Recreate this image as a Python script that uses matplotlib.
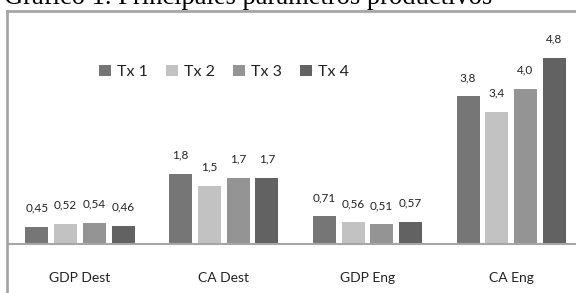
import numpy as np
import matplotlib
matplotlib.use("Agg")
import matplotlib.pyplot as plt
from matplotlib.lines import Line2D

# data
categories = ["GDP Dest", "CA Dest", "GDP Eng", "CA Eng"]
series_names = ["Tx 1", "Tx 2", "Tx 3", "Tx 4"]
tx1 = [0.45, 1.8, 0.71, 3.8]
tx2 = [0.52, 1.5, 0.56, 3.4]
tx3 = [0.54, 1.7, 0.51, 4.0]
tx4 = [0.46, 1.7, 0.57, 4.8]
value_labels = [
    ["0,45", "1,8", "0,71", "3,8"],
    ["0,52", "1,5", "0,56", "3,4"],
    ["0,54", "1,7", "0,51", "4,0"],
    ["0,46", "1,7", "0,57", "4,8"],
]
colors = ["#767676", "#c2c2c2", "#949494", "#626262"]
title = "Gráfico 1. Principales parámetros productivos"

W, H = 576, 293
font = "Lato"

fig = plt.figure(figsize=(W / 100, H / 100), dpi=100)
ax = fig.add_axes([8 / W, 49 / H, (583 - 8) / W, 233 / H])

x = np.arange(len(categories))
step = 0.2
width = 0.16
for i, (vals, name) in enumerate(zip([tx1, tx2, tx3, tx4], series_names)):
    pos = x + (i - 1.5) * step
    ax.bar(pos, vals, width, color=colors[i], label=name, zorder=2)
    for px, v, lab in zip(pos, vals, value_labels[i]):
        ax.annotate(lab, (px, v), xytext=(0, 13.5), textcoords="offset points",
                    ha="center", va="center", fontsize=8.5, family=font,
                    color="#222222")

ax.set_xlim(-0.5, 3.5)
ax.set_ylim(0, 6)
ax.set_yticks([])
ax.set_xticks(x)
ax.set_xticklabels(categories, family=font, fontsize=10, color="#222222")
ax.tick_params(axis="x", length=0, pad=20)
for side in ["top", "left", "right"]:
    ax.spines[side].set_visible(False)
ax.spines["bottom"].set_color("#a6a6a6")
ax.spines["bottom"].set_linewidth(1.5)

leg = ax.legend(ncol=4, frameon=False, loc="center left",
                bbox_to_anchor=(93 / W, 1 - 72 / H), bbox_transform=fig.transFigure,
                prop={"family": font, "size": 11.5},
                handlelength=0.75, handleheight=0.75, handletextpad=0.35,
                columnspacing=1.15, borderaxespad=0)
for t in leg.get_texts():
    t.set_color("#222222")

# outer chart frame (left and top edges visible)
fig.add_artist(Line2D([7 / W, 7 / W], [0, 1 - 11 / H], transform=fig.transFigure,
                      color="#a6a6a6", lw=2))
fig.add_artist(Line2D([7 / W, 1], [1 - 11 / H, 1 - 11 / H], transform=fig.transFigure,
                      color="#a6a6a6", lw=2))

# title, cut off at the top of the image; size fitted to span ~490 px
ttl = fig.text(4 / W, 1 - 4.5 / H, title, family="Liberation Serif", fontsize=20,
               va="baseline", ha="left", color="black")
renderer = fig.canvas.get_renderer()
w = ttl.get_window_extent(renderer).width
ttl.set_fontsize(20 * 489 / w)

fig.savefig("out.png", dpi=100)
